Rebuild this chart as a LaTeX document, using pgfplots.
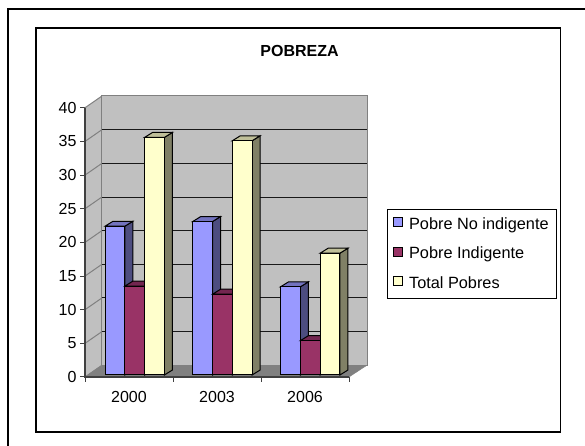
\documentclass[border=0pt]{standalone}
\usepackage{pgfplots}
\pgfplotsset{compat=1.18}
\usepackage{fontspec}
\setmainfont{Liberation Sans}
\definecolor{bF}{HTML}{9999FF}\definecolor{bS}{HTML}{4D4D80}\definecolor{bT}{HTML}{7373BF}
\definecolor{rF}{HTML}{993366}\definecolor{rS}{HTML}{4D1A33}\definecolor{rT}{HTML}{732650}
\definecolor{yF}{HTML}{FFFFCC}\definecolor{yS}{HTML}{808066}\definecolor{yT}{HTML}{BFBF99}
\definecolor{wall}{HTML}{C0C0C0}\definecolor{edge}{HTML}{808080}
\newcommand{\gridl}[1]{%
  \pgfmathsetmacro{\vb}{#1+1.75}%
  \addplot[edge,line width=1pt,forget plot] coordinates {(0,#1) (0.193,\vb)};
  \addplot[black!90,line width=0.9pt,forget plot] coordinates {(0.193,\vb) (3.2045,\vb)};
}
\newcommand{\faces}[5]{% centre, shift in bars, value, side, top
  \pgfmathsetmacro{\xl}{#1+(#2-0.5)*0.225}%
  \pgfmathsetmacro{\xr}{\xl+0.225}%
  \pgfmathsetmacro{\xlb}{\xl+0.0909}%
  \pgfmathsetmacro{\xrb}{\xr+0.0909}%
  \pgfmathsetmacro{\vt}{#3+0.3}%
  \pgfmathsetmacro{\vtb}{#3+1.04}%
  \addplot[fill=#4,draw=black,line width=1pt,forget plot] coordinates {(\xr,0.3) (\xrb,1.04) (\xrb,\vtb) (\xr,\vt)} -- cycle;
  \addplot[fill=#5,draw=black,line width=1pt,forget plot] coordinates {(\xl,\vt) (\xlb,\vtb) (\xrb,\vtb) (\xr,\vt)} -- cycle;
}
\pgfplotsset{bars/.style={ybar,bar width=19.8pt,draw=black,line width=1pt,yshift=2pt},
  sq/.style={legend image code/.code={\draw[##1,line width=1pt] (0pt,-4.5pt) rectangle (9.5pt,4.5pt); \path (13.5pt,0pt);}}}
\begin{document}
\begin{tikzpicture}[x=1pt,y=1pt,font=\fontsize{16}{19}\selectfont]
\useasboundingbox (0,0) rectangle (585,446);
\draw[black,line width=1.2pt] (8,0) -- (8,437) -- (585,437);
\draw[black,line width=1.2pt] (36,14) rectangle (560.5,418);
\node at (299.5,395) {\textbf{POBREZA}};
\begin{axis}[
  at={(85pt,69pt)},anchor=origin,scale only axis,width=282pt,height=281pt,
  xmin=0,xmax=3.2045,ymin=0,ymax=41.75,clip=false,
  axis lines=left,axis line style={draw=none},
  /pgf/number format/assume math mode=true,
  ytick={0,5,...,40},
  xtick={0.5,1.5,2.5},xticklabels={2000,2003,2006},
  minor xtick={0,1,2,3},
  tick align=outside,major tick length=5pt,minor tick length=5pt,
  major y tick style={black!75,line width=1pt},
  major x tick style={draw=none},
  minor x tick style={black!75,line width=1pt},
  x tick label style={yshift=-6pt},
  tick label style={font=\fontsize{16}{19}\selectfont},
  legend style={at={(1.07,0.598)},anchor=north west,draw=black,line width=0.7pt,
    font=\fontsize{16.3}{19}\selectfont,row sep=12pt,inner xsep=5.5pt,inner ysep=6.5pt,
    cells={anchor=west},fill=white},
  legend cell align=left,
]
% walls and floor
\addplot[fill=wall,draw=edge,line width=1pt,forget plot] coordinates {(0,0) (0.193,1.75) (0.193,41.75) (0,40)} -- cycle;
\addplot[fill=wall,draw=edge,line width=1pt,forget plot] coordinates {(0.193,1.75) (3.2045,1.75) (3.2045,41.75) (0.193,41.75)} -- cycle;
\gridl{5}\gridl{10}\gridl{15}\gridl{20}\gridl{25}\gridl{30}\gridl{35}
\addplot[fill=edge,draw=edge,forget plot] coordinates {(0,0) (3,0) (3.2045,1.75) (0.193,1.75)} -- cycle;
\addplot[black!75,line width=1.1pt,forget plot] coordinates {(0,40) (0,0) (3,0)};
% Pobre No indigente
\faces{0.565}{-1}{22.1}{bS}{bT}
\faces{1.562}{-1}{22.8}{bS}{bT}
\faces{2.56}{-1}{13.1}{bS}{bT}
\addplot[bars,sq,fill=bF,bar shift=-19.8pt] coordinates {(0.565,22.1) (1.562,22.8) (2.56,13.1)};
\addlegendentry{Pobre No indigente}
% Pobre Indigente
\faces{0.565}{0}{13.2}{rS}{rT}
\faces{1.562}{0}{12.0}{rS}{rT}
\faces{2.56}{0}{5.1}{rS}{rT}
\addplot[bars,sq,fill=rF,bar shift=0pt] coordinates {(0.565,13.2) (1.562,12.0) (2.56,5.1)};
\addlegendentry{Pobre Indigente}
% Total Pobres
\faces{0.565}{1}{35.3}{yS}{yT}
\faces{1.562}{1}{34.8}{yS}{yT}
\faces{2.56}{1}{18.1}{yS}{yT}
\addplot[bars,sq,fill=yF,bar shift=19.8pt] coordinates {(0.565,35.3) (1.562,34.8) (2.56,18.1)};
\addlegendentry{Total Pobres}
\end{axis}
\end{tikzpicture}
\end{document}
